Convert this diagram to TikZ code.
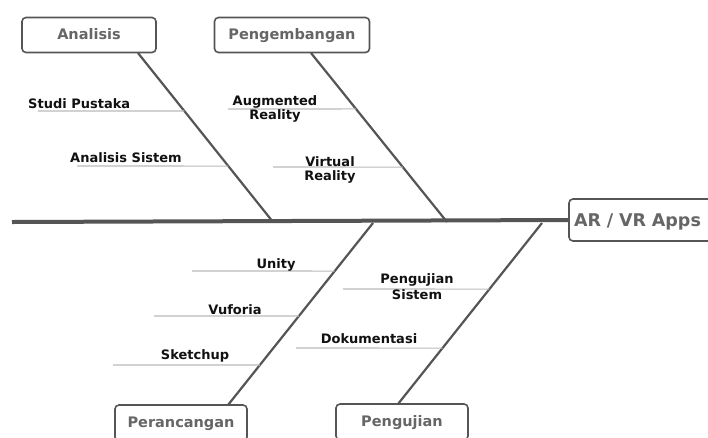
\documentclass[tikz,border=0pt]{standalone}
\usepackage{fontspec}
\setmainfont{DejaVu Sans}
\usetikzlibrary{calc}
\definecolor{bonegray}{HTML}{555555}
\definecolor{subgray}{HTML}{BBBBBB}
\definecolor{boxtext}{HTML}{666666}
\definecolor{labeltext}{HTML}{111111}
\tikzset{
  catbox/.style={draw=bonegray, line width=1.6pt, rounded corners=4pt, fill=white,
    text=boxtext, font=\fontsize{14.5}{16}\selectfont\bfseries, inner sep=0pt,
    text height=10.5pt, text depth=2pt},
  headbox/.style={catbox, font=\fontsize{17.5}{18}\selectfont\bfseries,
    text height=12.8pt, text depth=0.8pt},
  bone/.style={draw=bonegray, line width=2.2pt},
  spine/.style={draw=bonegray, line width=4pt},
  subbone/.style={draw=subgray, line width=1.1pt},
  lbl/.style={text=labeltext, font=\fontsize{13}{13.5}\selectfont\bfseries, inner sep=0pt, align=center, anchor=base},
  lblw/.style={lbl, anchor=base west}
}
\begin{document}
\begin{tikzpicture}[x=1pt,y=-1pt]
\useasboundingbox (0,0) rectangle (708,437);
\fill[white] (0,0) rectangle (708,437);
% boxes
\node[catbox, minimum width=134pt, minimum height=35pt] (anl) at (89,35) {Analisis};
\node[catbox, minimum width=155pt, minimum height=35pt] (peng) at (292,35) {Pengembangan};
\node[catbox, minimum width=132pt, minimum height=36pt] (pera) at (181,423) {Perancangan};
\node[catbox, minimum width=132pt, minimum height=36pt] (penu) at (402,422) {Pengujian};
\node[headbox, minimum width=150pt, minimum height=42pt, text width=140pt, align=left] (app) at (644,220) {AR / VR Apps};
% bone end points
\coordinate (anlT) at (138,53);
\coordinate (anlB) at (273,222);
\coordinate (pengT) at (311,53);
\coordinate (pengB) at (447,222);
\coordinate (peraT) at (373,223);
\coordinate (peraB) at (228,405);
\coordinate (penuT) at (542,223);
\coordinate (penuB) at (398,404);
\coordinate (tail) at (12,222);
% spine and bones
\draw[spine] (tail) -- (app.west);
\draw[bone] (anlT) -- (anlB);
\draw[bone] (pengT) -- (pengB);
\draw[bone] (peraB) -- (peraT);
\draw[bone] (penuB) -- (penuT);
% sub-bone points on bones
\coordinate (s1) at ($(anlT)!0.343!(anlB)$);
\coordinate (s2) at ($(anlT)!0.669!(anlB)$);
\coordinate (s3) at ($(pengT)!0.331!(pengB)$);
\coordinate (s4) at ($(pengT)!0.675!(pengB)$);
\coordinate (s5) at ($(peraB)!0.736!(peraT)$);
\coordinate (s6) at ($(peraB)!0.489!(peraT)$);
\coordinate (s7) at ($(peraB)!0.220!(peraT)$);
\coordinate (s8) at ($(penuB)!0.635!(penuT)$);
\coordinate (s9) at ($(penuB)!0.309!(penuT)$);
% sub-bone start points
\coordinate (e1) at (38,111);
\coordinate (e2) at (77,166);
\coordinate (e3) at (228,109);
\coordinate (e4) at (273,167);
\coordinate (e5) at (192,271);
\coordinate (e6) at (154,316);
\coordinate (e7) at (113,365);
\coordinate (e8) at (343,289);
\coordinate (e9) at (296,348);
\foreach \i in {1,...,9} { \draw[subbone] (e\i) -- (s\i); }
% labels
\node[lblw] (l1) at (28,108) {Studi Pustaka};
\node[lblw] (l2) at (70,162) {Analisis Sistem};
\node[lbl] (l3) at (275,119) {Augmented\\Reality};
\node[lbl, font=\fontsize{13}{14}\selectfont\bfseries] (l4) at (330,180) {Virtual\\Reality};
\node[lbl] (l5) at (276,268) {Unity};
\node[lbl] (l6) at (235,314) {Vuforia};
\node[lbl] (l7) at (195,359) {Sketchup};
\node[lbl, font=\fontsize{13}{16}\selectfont\bfseries] (l8) at (417,299) {Pengujian\\Sistem};
\node[lbl] (l9) at (369,343) {Dokumentasi};
\end{tikzpicture}
\end{document}
